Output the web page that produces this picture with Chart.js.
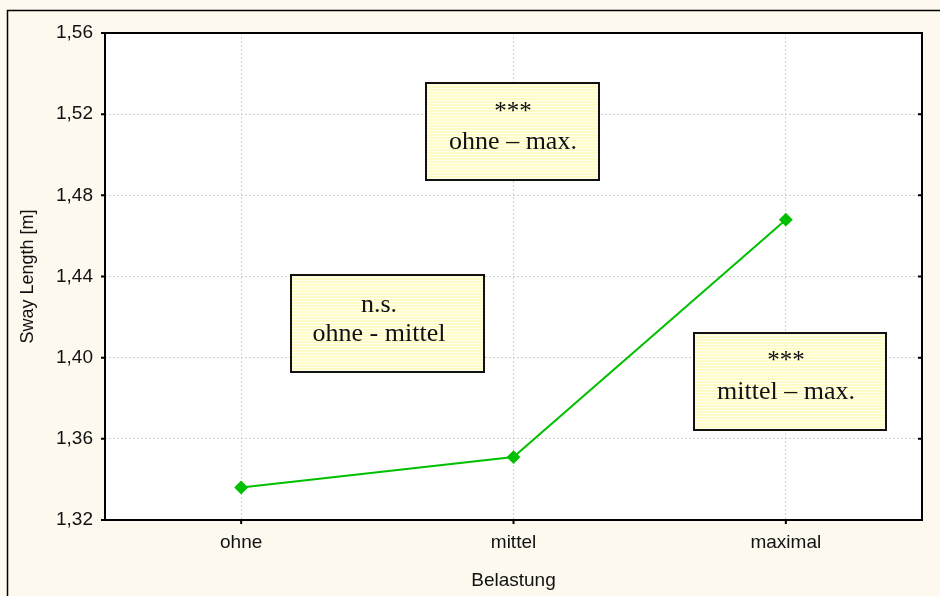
<!DOCTYPE html>
<html>
<head>
<meta charset="utf-8">
<script src="https://cdn.jsdelivr.net/npm/chart.js@4/dist/chart.umd.min.js"></script>
<style>
  html, body { margin: 0; padding: 0; background: #fdf9ee; }
  canvas { display: block; }
</style>
</head>
<body>
<canvas id="chart1" width="940" height="596"></canvas>
<script>
// values
const categories = ['ohne', 'mittel', 'maximal'];
const swayLength = [1.336, 1.351, 1.468];
const yMin = 1.32, yMax = 1.56, yStep = 0.04;

// text boxes (annotations): box in pixels, text centre and baselines
const notes = [
    { x: 426, y: 83, w: 173, h: 97, cx: 513, lines: ['***', 'ohne \u2013 max.'], base: [119, 149] },
    { x: 291, y: 275, w: 193, h: 97, cx: 379, lines: ['n.s.', 'ohne - mittel'], base: [312, 341] },
    { x: 694, y: 333, w: 192, h: 97, cx: 786, lines: ['***', 'mittel \u2013 max.'], base: [368, 399] }
];

const axisFont = 'Arial, "Liberation Sans", sans-serif';

const framePlugin = {
    id: 'frame',
    beforeDraw(chart) {
        const c = chart.ctx, a = chart.chartArea;
        c.save();
        c.fillStyle = '#fdf9ee';
        c.fillRect(0, 0, chart.width, chart.height);
        c.strokeStyle = '#000';
        c.lineWidth = 1.5;
        c.beginPath();
        c.moveTo(7.5, chart.height);
        c.lineTo(7.5, 10.5);
        c.lineTo(chart.width, 10.5);
        c.stroke();
        c.fillStyle = '#fff';
        c.fillRect(a.left, a.top, a.right - a.left, a.bottom - a.top);
        c.restore();
    },
    afterDraw(chart) {
        const c = chart.ctx, a = chart.chartArea;
        const xs = chart.scales.x, ys = chart.scales.y;
        c.save();
        c.strokeStyle = '#000';
        c.lineWidth = 2;
        c.strokeRect(a.left, a.top, a.right - a.left, a.bottom - a.top);
        c.beginPath();
        ys.ticks.forEach((t, i) => {
            const y = ys.getPixelForTick(i);
            c.moveTo(a.left - 4, y); c.lineTo(a.left, y);
            c.moveTo(a.right - 4, y); c.lineTo(a.right, y);
        });
        xs.ticks.forEach((t, i) => {
            const x = xs.getPixelForTick(i);
            c.moveTo(x, a.bottom); c.lineTo(x, a.bottom + 4);
        });
        c.stroke();

        notes.forEach(n => {
            c.fillStyle = '#fffbc4';
            c.fillRect(n.x, n.y, n.w, n.h);
            c.strokeStyle = 'rgba(255,255,255,0.8)';
            c.lineWidth = 1;
            c.beginPath();
            for (let y = n.y + 2.5; y < n.y + n.h; y += 3) {
                c.moveTo(n.x, y); c.lineTo(n.x + n.w, y);
            }
            c.stroke();
            c.strokeStyle = '#111';
            c.lineWidth = 2;
            c.strokeRect(n.x, n.y, n.w, n.h);
            c.fillStyle = '#111';
            c.textAlign = 'center';
            c.textBaseline = 'alphabetic';
            n.lines.forEach((s, i) => {
                c.font = (s === '***' ? 25 : 26) + 'px "Liberation Serif", "Times New Roman", serif';
                c.fillText(s, n.cx, n.base[i]);
            });
        });
        c.restore();
    }
};

const ctx1 = document.getElementById('chart1').getContext('2d');
new Chart(ctx1, {
    type: 'line',
    data: {
        labels: categories,
        datasets: [{
            label: 'Sway Length',
            data: swayLength,
            borderColor: '#00c000',
            backgroundColor: '#00c000',
            borderWidth: 2,
            pointStyle: 'rectRot',
            pointRadius: 5.5,
            tension: 0
        }]
    },
    options: {
        responsive: false,
        animation: false,
        layout: { padding: { left: 0, top: 33, right: 18, bottom: 0 } },
        plugins: { legend: { display: false }, tooltip: { enabled: false } },
        scales: {
            x: {
                offset: true,
                afterFit(s) { s.height = 76; },
                grid: { color: '#d0d0d0', drawTicks: false, offset: false },
                border: { display: false, dash: [2, 2] },
                ticks: { color: '#111', padding: 11, font: { family: axisFont, size: 19 } },
                title: { display: true, text: 'Belastung', color: '#111', padding: { top: 4, bottom: 4 },
                         font: { family: axisFont, size: 19 } }
            },
            y: {
                min: yMin,
                max: yMax,
                afterFit(s) { s.width = 105; },
                grid: { color: '#d0d0d0', drawTicks: false },
                border: { display: false, dash: [2, 2] },
                ticks: {
                    stepSize: yStep,
                    color: '#111',
                    padding: 12,
                    font: { family: axisFont, size: 19 },
                    callback: v => v.toFixed(2).replace('.', ',')
                },
                title: { display: true, text: 'Sway Length [m]', color: '#111', padding: { top: 17, bottom: 4 },
                         font: { family: axisFont, size: 18 } }
            }
        }
    },
    plugins: [framePlugin]
});
</script>
</body>
</html>
